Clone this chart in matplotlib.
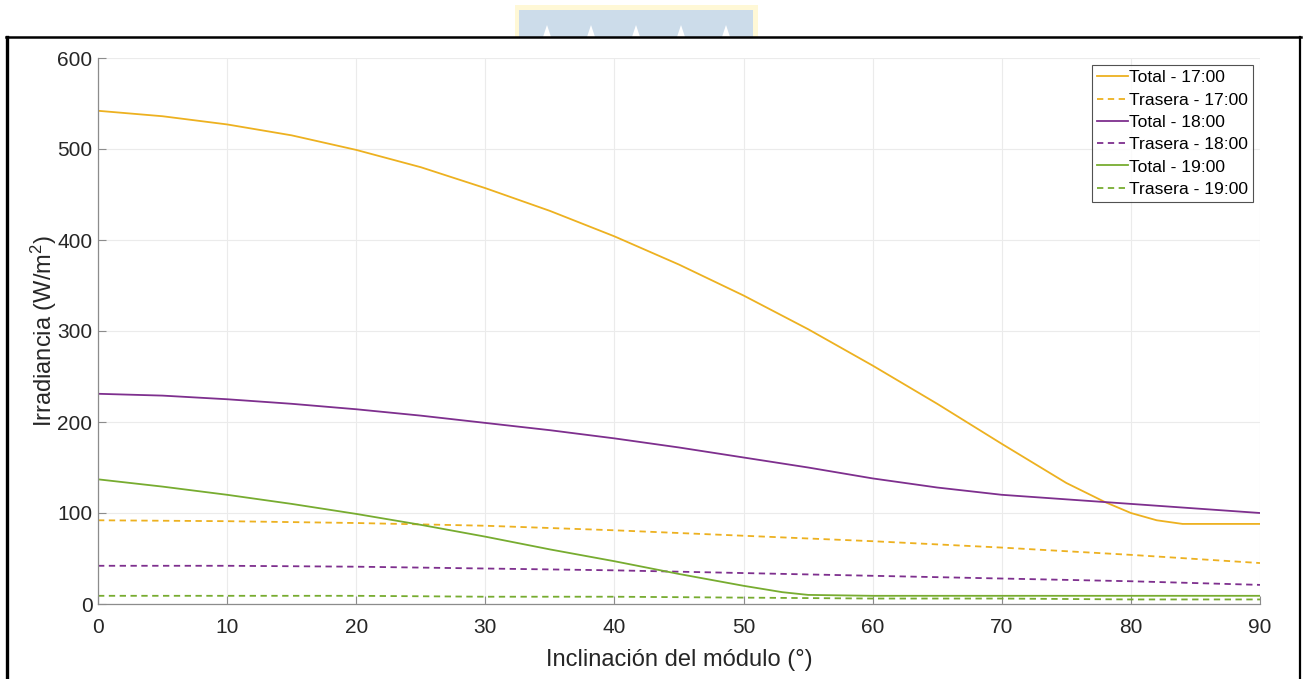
import matplotlib
matplotlib.use("Agg")
import matplotlib.pyplot as plt
from matplotlib.patches import Rectangle, Polygon
from matplotlib.lines import Line2D

plt.rcParams['font.family'] = ['Liberation Sans', 'DejaVu Sans']
plt.rcParams['mathtext.fontset'] = 'custom'
plt.rcParams['mathtext.rm'] = 'Liberation Sans'
plt.rcParams['mathtext.it'] = 'Liberation Sans:italic'

# ---- data ----
x_total17 = [0, 5, 10, 15, 20, 25, 30, 35, 40, 45, 50, 55, 60, 65, 70, 75, 78, 80, 82, 84, 85, 90]
total17 = [542, 536, 527, 515, 499, 480, 457, 432, 404, 373, 339, 302, 262, 220, 176, 133, 112, 100, 92, 88, 88, 88]

x_total18 = [0, 5, 10, 15, 20, 25, 30, 35, 40, 45, 50, 55, 60, 65, 70, 75, 80, 85, 90]
total18 = [231, 229, 225, 220, 214, 207, 199, 191, 182, 172, 161, 150, 138, 128, 120, 115, 110, 105, 100]

x_total19 = [0, 5, 10, 15, 20, 25, 30, 35, 40, 45, 50, 53, 55, 60, 70, 80, 90]
total19 = [137, 129, 120, 110, 99, 87, 74, 60, 47, 33, 20, 13, 10, 9, 9, 9, 9]

x_tras = [0, 10, 20, 30, 40, 50, 60, 70, 80, 90]
trasera17 = [92, 91, 89, 86, 81, 75, 69, 62, 54, 45]
trasera18 = [42, 42, 41, 39, 37, 34, 31, 28, 25, 21]
trasera19 = [9, 9, 9, 8, 8, 7, 6, 6, 5, 5]

labels = ['Total - 17:00', 'Trasera - 17:00', 'Total - 18:00',
          'Trasera - 18:00', 'Total - 19:00', 'Trasera - 19:00']
xticks = [0, 10, 20, 30, 40, 50, 60, 70, 80, 90]
yticks = [0, 100, 200, 300, 400, 500, 600]

c17, c18, c19 = '#EDB120', '#7E2F8E', '#77AC30'

W, H = 1304, 679
fig = plt.figure(figsize=(W / 100, H / 100), dpi=100)

# watermark at top
fig.add_artist(Rectangle((515 / W, 1 - 37 / H), 243 / W, 32 / H, transform=fig.transFigure,
                         facecolor='#FFF8D6', edgecolor='none', zorder=0))
fig.add_artist(Rectangle((519 / W, 1 - 37 / H), 234 / W, 27 / H, transform=fig.transFigure,
                         facecolor='#CCDCEA', edgecolor='none', zorder=0))
for tx in [547, 591, 636, 681, 726]:
    fig.add_artist(Polygon([((tx - 4) / W, 1 - 37 / H), ((tx + 4) / W, 1 - 37 / H), (tx / W, 1 - 25 / H)],
                           closed=True, transform=fig.transFigure, facecolor='white',
                           edgecolor='none', zorder=0.5))

# figure border
fig.add_artist(Line2D([7 / W, 7 / W], [-0.05, 1 - 37 / H], transform=fig.transFigure, color='black', lw=2.4))
fig.add_artist(Line2D([1300 / W, 1300 / W], [-0.05, 1 - 37 / H], transform=fig.transFigure, color='black', lw=1.6))
fig.add_artist(Line2D([6 / W, 1301 / W], [1 - 37 / H, 1 - 37 / H], transform=fig.transFigure, color='black', lw=1.8))

ax = fig.add_axes([98 / W, 1 - 604 / H, (1260 - 98) / W, (604 - 58) / H])

lw = 1.3
dash = (0, (3.5, 2.5))
ax.plot(x_total17, total17, color=c17, lw=lw, label=labels[0])
ax.plot(x_tras, trasera17, color=c17, lw=lw, ls=dash, label=labels[1])
ax.plot(x_total18, total18, color=c18, lw=lw, label=labels[2])
ax.plot(x_tras, trasera18, color=c18, lw=lw, ls=dash, label=labels[3])
ax.plot(x_total19, total19, color=c19, lw=lw, label=labels[4])
ax.plot(x_tras, trasera19, color=c19, lw=lw, ls=dash, label=labels[5])

ax.set_xlim(0, 90)
ax.set_ylim(0, 600)
ax.set_xticks(xticks)
ax.set_yticks(yticks)
ax.grid(True, color='#EBEBEB', lw=0.8)
ax.set_axisbelow(True)
for s in ['top', 'right']:
    ax.spines[s].set_visible(False)
for s in ['left', 'bottom']:
    ax.spines[s].set_color('#8C8C8C')
    ax.spines[s].set_linewidth(0.9)
ax.tick_params(direction='in', length=6, width=0.8, color='#8C8C8C',
               labelsize=15, labelcolor='#262626')
ax.tick_params(axis='x', pad=10)
ax.tick_params(axis='y', pad=4)
ax.set_xlabel('Inclinación del módulo (°)', fontsize=17, color='#262626', labelpad=9)
ax.set_ylabel('Irradiancia (W/m$^2$)', fontsize=17, color='#262626', labelpad=-1)

leg = ax.legend(loc='upper right', bbox_to_anchor=(1253 / W, 1 - 65 / H), bbox_transform=fig.transFigure,
                fontsize=12.6, frameon=True, fancybox=False, handlelength=1.75, handletextpad=0.05,
                labelspacing=0.4, borderpad=0.3, borderaxespad=0)
leg.get_frame().set_edgecolor('#262626')
leg.get_frame().set_linewidth(0.8)
for t in leg.get_texts():
    t.set_color('#000000')

fig.savefig('out.png', dpi=100)
